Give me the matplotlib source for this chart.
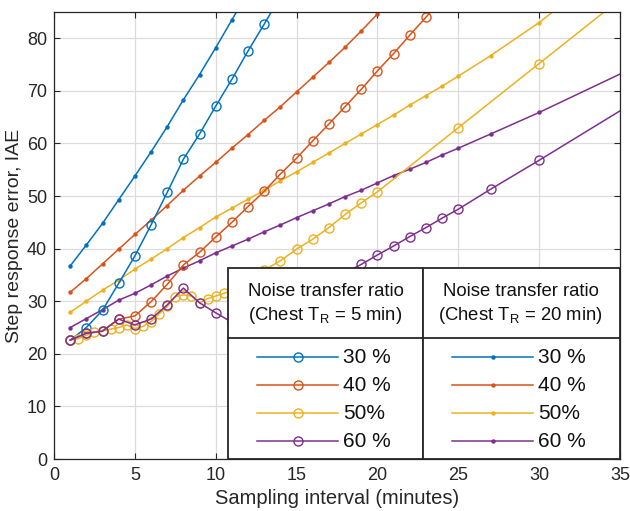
import matplotlib
matplotlib.use('Agg')
import matplotlib.pyplot as plt
from matplotlib.lines import Line2D
from matplotlib.patches import Rectangle

plt.rcParams['font.family'] = ['Liberation Sans', 'DejaVu Sans']

# series colours (MATLAB defaults)
colors = ['#0072BD', '#D95319', '#EDB120', '#7E2F8E']
labels = ['30 %', '40 %', '50%', '60 %']

# Chest T_R = 5 min (open circles)
x_c30 = [1, 2, 3, 4, 5, 6, 7, 8, 9, 10, 11, 12, 13, 14]
y_c30 = [22.6, 25.0, 28.3, 33.4, 38.6, 44.5, 50.7, 57.0, 61.8, 67.1, 72.2, 77.6, 82.7, 88.0]

x_c40 = list(range(1, 25))
y_c40 = [22.6, 23.9, 24.4, 26.6, 27.2, 29.9, 33.2, 36.9, 39.3, 42.2, 45.0, 48.0,
         50.9, 54.2, 57.2, 60.5, 63.7, 67.0, 70.3, 73.8, 77.1, 80.6, 84.0, 87.5]

x_c50 = [1, 1.5, 2, 2.5, 3, 3.5, 4, 4.5, 5, 5.5, 6, 6.5, 7, 7.5, 8, 8.5, 9, 9.5, 10, 10.5, 11,
         12, 13, 14, 15, 16, 17, 18, 19, 20, 25, 30, 35]
y_c50 = [22.6, 22.9, 23.5, 24.1, 24.4, 24.7, 25.0, 25.5, 24.8, 25.2, 26.1, 27.6, 29.0, 30.9,
         31.2, 31.0, 29.7, 30.5, 31.0, 31.5, 32.0,
         33.8, 35.9, 37.7, 39.9, 41.8, 44.0, 46.5, 48.7, 50.8, 63.0, 75.2, 87.4]

x_c60 = list(range(1, 26)) + [27, 30, 40]
y_c60 = [22.6, 23.9, 24.3, 26.6, 25.5, 26.6, 29.3, 32.5, 29.7, 27.8, 26.0, 26.5, 27.5,
         28.8, 30.3, 32.0, 33.7, 35.4, 37.0, 38.8, 40.5, 42.3, 44.0, 45.8, 47.5,
         51.3, 56.8, 75.6]

# Chest T_R = 20 min (dots)
x_d30 = list(range(1, 13))
y_d30 = [36.7, 40.7, 44.8, 49.3, 53.8, 58.4, 63.2, 68.3, 73.1, 78.2, 83.5, 88.8]

x_d40 = list(range(1, 22))
y_d40 = [31.7, 34.3, 37.1, 39.9, 42.7, 45.4, 48.2, 51.1, 53.8, 56.4, 59.1, 61.7, 64.4,
         67.0, 69.8, 72.6, 75.4, 78.3, 81.4, 84.6, 87.8]

x_d50 = list(range(1, 26)) + [27, 30, 35]
y_d50 = [27.9, 30.0, 32.1, 34.0, 36.1, 38.0, 40.0, 42.1, 44.0, 46.0, 47.7, 49.4, 51.1,
         52.9, 54.6, 56.4, 58.2, 60.0, 61.8, 63.6, 65.4, 67.3, 69.1, 70.9, 72.8,
         76.7, 83.0, 95.0]

x_d60 = list(range(1, 26)) + [27, 30, 40]
y_d60 = [25.0, 26.7, 28.4, 30.2, 31.5, 33.1, 34.8, 36.3, 37.7, 39.2, 40.5, 41.8, 43.2,
         44.5, 45.9, 47.2, 48.5, 49.9, 51.1, 52.5, 53.9, 55.1, 56.4, 57.8, 59.1,
         61.8, 65.9, 80.5]

circle_sets = [(x_c30, y_c30), (x_c40, y_c40), (x_c50, y_c50), (x_c60, y_c60)]
dot_sets = [(x_d30, y_d30), (x_d40, y_d40), (x_d50, y_d50), (x_d60, y_d60)]

fig = plt.figure(figsize=(6.3, 5.11), dpi=100)
ax = fig.add_axes([54 / 630, 52 / 511, 566 / 630, 447 / 511])

circle_style = dict(marker='o', markersize=6.5, markerfacecolor='none', markeredgewidth=1.0, linewidth=1.1)
dot_style = dict(marker='o', markersize=3.2, markeredgewidth=0, linewidth=1.1)

for (xs, ys), c in zip(dot_sets, colors):
    ax.plot(xs, ys, color=c, **dot_style)
for (xs, ys), c in zip(circle_sets, colors):
    ax.plot(xs, ys, color=c, markeredgecolor=c, **circle_style)

ax.set_xlim(0, 35)
ax.set_ylim(0, 85)
ax.set_xticks(range(0, 36, 5))
ax.set_yticks(range(0, 81, 10))
ax.grid(True, color='#dcdcdc', linewidth=0.9)
ax.set_axisbelow(True)
ax.tick_params(direction='in', top=True, right=True, length=4, width=0.8,
               labelsize=13, colors='#262626')
ax.tick_params(axis='x', pad=6)
ax.tick_params(axis='y', pad=5)
for s in ax.spines.values():
    s.set_color('#262626')
    s.set_linewidth(0.9)
ax.set_xlabel('Sampling interval (minutes)', fontsize=14.5, color='#262626', labelpad=3)
ax.set_ylabel('Step response error, IAE', fontsize=14, color='#262626', labelpad=3)


# legend table drawn in pixel-like coordinates of the axes
def fx(px):
    return (px - 54) / 566


def fy(py):
    return (459 - py) / 447


tr = ax.transAxes
box_kw = dict(transform=tr, facecolor='white', edgecolor='#262626', linewidth=1.3,
              clip_on=False, zorder=10)
ax.add_patch(Rectangle((fx(228), fy(459)), fx(423) - fx(228), fy(268) - fy(459), **box_kw))
ax.add_patch(Rectangle((fx(423), fy(459)), fx(620) - fx(423), fy(268) - fy(459), **box_kw))
ax.add_line(Line2D([fx(228), fx(620)], [fy(338), fy(338)], transform=tr, color='#262626',
                   linewidth=1.3, clip_on=False, zorder=11))

headers = ['(Chest T$_\\mathregular{R}$ = 5 min)', '(Chest T$_\\mathregular{R}$ = 20 min)']
col_left = [228, 423]
for left, head in zip(col_left, headers):
    cx = fx(left + 97.5)
    ax.text(cx, fy(291), 'Noise transfer ratio', transform=tr, ha='center', va='center',
            fontsize=13.3, color='#111111', zorder=12)
    ax.text(cx, fy(316), head, transform=tr, ha='center', va='center',
            fontsize=13.3, color='#111111', zorder=12)

row_y = [357, 385, 413, 441]
for i, left in enumerate(col_left):
    for ry, c, lab in zip(row_y, colors, labels):
        xs = [fx(left + 29), fx(left + 110)]
        ax.add_line(Line2D(xs, [fy(ry), fy(ry)], transform=tr, color=c, linewidth=1.1,
                           clip_on=False, zorder=12))
        if i == 0:
            ax.add_line(Line2D([fx(left + 69.5)], [fy(ry)], transform=tr, color=c,
                               markeredgecolor=c, clip_on=False, zorder=12,
                               **{k: v for k, v in circle_style.items() if k != 'linewidth'}))
        else:
            ax.add_line(Line2D([fx(left + 69.5)], [fy(ry)], transform=tr, color=c,
                               clip_on=False, zorder=12,
                               **{k: v for k, v in dot_style.items() if k != 'linewidth'}))
        ax.text(fx(left + 115), fy(ry), lab, transform=tr, ha='left', va='center',
                fontsize=15, color='#111111', zorder=12)

fig.savefig('out.png', dpi=100)
